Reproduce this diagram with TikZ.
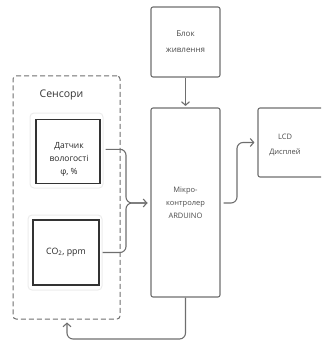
\documentclass[tikz,border=0pt]{standalone}
\usepackage{fontspec}
\setmainfont{Open Sans}
\usetikzlibrary{calc,arrows.meta}

\definecolor{linegray}{HTML}{6E6E6E}
\definecolor{bggray}{HTML}{ECECEC}
\definecolor{textgray}{HTML}{4A4A4A}

\tikzset{
  blok/.style={draw=linegray,line width=1.1pt,rounded corners=2pt,inner sep=0pt,align=center,text=textgray},
  sensbg/.style={draw=bggray,line width=1pt,rounded corners=4pt,inner sep=0pt},
  sensbox/.style={draw=black!80,line width=1.3pt,inner sep=0pt,align=center,text=black!85},
  wire/.style={draw=linegray,line width=1.1pt,rounded corners=6pt},
  tip/.style={-{Straight Barb[length=3.5pt,width=8pt]}}
}

\begin{document}
\begin{tikzpicture}[x=1pt,y=-1pt]
                \clip (0,0) rectangle (321,342);

                \node[blok,minimum width=69,minimum height=70,font=\fontsize{8}{16}\selectfont] (PSU) at (185.5,42) {Блок\\живлення};
                \node[blok,minimum width=69,minimum height=189,font=\fontsize{7.5}{13}\selectfont] (MCU) at (185.5,202.5) {Мікро-\\контролер\\ARDUINO};
                \node[blok,minimum width=72,minimum height=69] (LCD) at (294,142.5) {};
                \node[align=center,text=textgray,font=\fontsize{7.5}{15}\selectfont] (LCDtxt) at (285,145) {LCD\\Дисплей};

                \node[draw=linegray,line width=1pt,dash pattern=on 5pt off 3pt,rounded corners=3pt,
                      minimum width=107,minimum height=243] (SENS) at (66.5,197.5) {};
                \node[text=black!80,font=\fontsize{10.5}{12}\selectfont] (SENStxt) at (61.5,95) {Сенсори};

                \node[sensbg,minimum width=73,minimum height=75] (S1bg) at (66.5,150.5) {};
                \node[sensbox,minimum width=64,minimum height=64] (S1) at (68,151.3) {};
                \node[align=center,text=black!85,font=\fontsize{8.5}{13}\selectfont] (S1txt) at (69,159) {Датчик\\вологості\\φ, \%};

                \node[sensbg,minimum width=74,minimum height=75] (S2bg) at (65,252.5) {};
                \node[sensbox,minimum width=66,minimum height=65,font=\fontsize{8.8}{10}\selectfont] (S2) at (66,252.5) {CO\textsubscript{2}, ppm};

                \coordinate (H) at ($(S1.east)+(5,-2)$);
                \coordinate (I) at ($(S2.east)+(3,0)$);
                \coordinate (J) at (126,203);
                \coordinate (M) at ($(MCU.west |- J)+(-3,0)$);
                \draw[wire] (H) -- (H -| J) -- (J) -- (M);
                \draw[wire,tip] (I) -- (I -| J) -- (J) -- (M);

                \coordinate (K) at (237,203);
                \draw[wire,tip] ($(MCU.east |- K)+(3,0)$) -- (K) -- (K |- LCD.west) -- ($(LCD.west)+(-3,0)$);

                \draw[line width=1.1pt,draw=linegray,tip] (PSU.south) -- ($(MCU.north)+(0,-1.5)$);

                \coordinate (L) at (67,339);
                \draw[wire,tip] (MCU.south) -- (MCU.south |- L) -- (L) -- ($(SENS.south -| L)+(0,3)$);
\end{tikzpicture}
\end{document}
